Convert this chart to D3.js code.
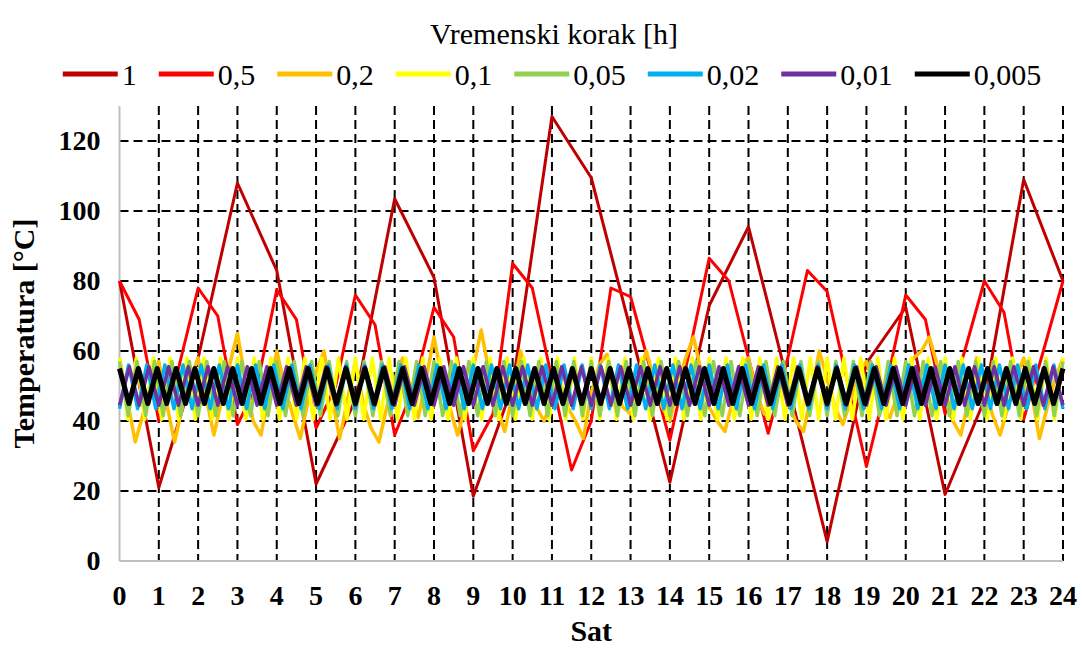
<!DOCTYPE html>
<html>
<head>
<meta charset="utf-8">
<script src="https://cdn.jsdelivr.net/npm/d3@7/dist/d3.min.js"></script>
<style>
  body { margin: 0; background: #fff; }
  text { font-family: "Liberation Serif", "Times New Roman", serif; }
</style>
</head>
<body>
<div id="chart"></div>
<script>
// legend labels (time step in hours) and colours
const seriesLabels = ["1", "0,5", "0,2", "0,1", "0,05", "0,02", "0,01", "0,005"];
const seriesColors = ["#C00000", "#FF0000", "#FFC000", "#FFFF00", "#92D050", "#00B0F0", "#7030A0", "#000000"];

const hourTicks = [0,1,2,3,4,5,6,7,8,9,10,11,12,13,14,15,16,17,18,19,20,21,22,23,24];
const tempTicks = [0,20,40,60,80,100,120];

// step 1 h
const step1 = [80,21,58,108,83,22,46,103.5,81,18.5,50,127,109.5,66,22.5,73,95.5,51,5.5,56.5,72.5,19,46,109,80];

// step 0,5 h
const step05 = [80,69,40,55,78,70,39,50,77.5,69,38,50,76,67.5,36,50,72.5,64,31.5,42,
  85,78,52,26,40,78,75.5,55,34.5,60,86.5,80,58,36.5,58,83,77,52,27,50,
  76,69,42,60,80,71,40.5,60,80];

// step 0,2 h
const step02 = [58,46,34,42,50, 57,45,34,44,52, 58,47,36,46,56, 65,52,40,36,48,
  60,50,42,35,46, 54,60,47,35,46, 57,45,38,34,44, 52,58,48,41,52,
  64,52,44,36,44, 55,66,54,44,37, 48,60,52,44,40, 46,52,44,40,35,
  48,56,59,50,44, 42,52,60,52,44, 40,50,58,64,54, 44,40,37,46,56,
  58,48,42,44,52, 46,40,37,48,60, 52,44,39,46,54, 57,50,44,41,48,
  54,58,60,64,56, 46,40,36,46,58, 50,42,36,44,52, 58,48,35,44,52, 58];

// finer steps, as they show in the picture
const step01 = [58,40.5,58,40.5,58,40.5,58,40.5,58,40.5, 58,40.5,58,40.5,58,40.5,58,40.5,58,40.5,
  58,40.5,58,40.5,58,40.5,58,40.5,58,40.5, 58,40.5,58,40.5,58,40.5,58,40.5,58,40.5,
  58,40.5,58,40.5,58,40.5,58,40.5,58,40.5, 58,40.5,58,40.5,58,40.5,58,40.5,58,40.5,
  58,40.5,58,40.5,58,40.5,58,40.5,58,40.5, 58,40.5,58,40.5,58,40.5,58,40.5,58,40.5,
  58,40.5,58,40.5,58,40.5,58,40.5,58,40.5, 58,40.5,58,40.5,58,40.5,58,40.5,58,40.5,
  58,40.5,58,40.5,58,40.5,58,40.5,58,40.5, 58,40.5,58];

const step005 = [57,41.5,57,41.5,57,41.5,57,41.5,57,41.5, 57,41.5,57,41.5,57,41.5,57,41.5,57,41.5,
  57,41.5,57,41.5,57,41.5,57,41.5,57,41.5, 57,41.5,57,41.5,57,41.5,57,41.5,57,41.5,
  57,41.5,57,41.5,57,41.5,57,41.5,57,41.5, 57,41.5,57,41.5,57,41.5,57,41.5,57,41.5,
  57,41.5,57,41.5,57,41.5,57,41.5,57,41.5, 57,41.5,57,41.5,57,41.5,57,41.5,57,41.5,
  57,41.5,57,41.5,57,41.5,57,41.5,57,41.5, 57,41.5,57,41.5,57,41.5,57,41.5,57,41.5,
  57,41.5,57,41.5,57,41.5,57,41.5,57];

const step002 = [43.5,56,43.5,56,43.5,56,43.5,56,43.5,56, 43.5,56,43.5,56,43.5,56,43.5,56,43.5,56,
  43.5,56,43.5,56,43.5,56,43.5,56,43.5,56, 43.5,56,43.5,56,43.5,56,43.5,56,43.5,56,
  43.5,56,43.5,56,43.5,56,43.5,56,43.5,56, 43.5,56,43.5,56,43.5,56,43.5,56,43.5,56,
  43.5,56,43.5,56,43.5,56,43.5,56,43.5,56, 43.5,56,43.5,56,43.5,56,43.5,56,43.5,56,
  43.5,56,43.5,56,43.5,56,43.5,56,43.5,56, 43.5,56,43.5,56,43.5,56,43.5,56,43.5,56,
  43.5,56,43.5,56,43.5];

const step001 = [44.5,55.5,44.5,55.5,44.5,55.5,44.5,55.5,44.5,55.5, 44.5,55.5,44.5,55.5,44.5,55.5,44.5,55.5,44.5,55.5,
  44.5,55.5,44.5,55.5,44.5,55.5,44.5,55.5,44.5,55.5, 44.5,55.5,44.5,55.5,44.5,55.5,44.5,55.5,44.5,55.5,
  44.5,55.5,44.5,55.5,44.5,55.5,44.5,55.5,44.5,55.5, 44.5,55.5,44.5,55.5,44.5,55.5,44.5,55.5,44.5,55.5,
  44.5,55.5,44.5,55.5,44.5,55.5,44.5,55.5,44.5,55.5, 44.5,55.5,44.5,55.5,44.5,55.5,44.5,55.5,44.5,55.5,
  44.5,55.5,44.5,55.5,44.5,55.5,44.5,55.5,44.5,55.5, 44.5,55.5,44.5,55.5,44.5,55.5,44.5];

const step0005 = [55,45,55,45,55,45,55,45,55,45, 55,45,55,45,55,45,55,45,55,45,
  55,45,55,45,55,45,55,45,55,45, 55,45,55,45,55,45,55,45,55,45,
  55,45,55,45,55,45,55,45,55,45, 55,45,55,45,55,45,55,45,55,45,
  55,45,55,45,55,45,55,45,55,45, 55,45,55,45,55,45,55,45,55,45,
  55,45,55,45,55,45,55,45,55,45, 55,45,55,45,55,45,55,45,55,45, 55];

const allSeries = [step1, step05, step02, step01, step005, step002, step001, step0005];
const lineWidths = [3, 3, 3.5, 3.5, 3.5, 3.5, 3.5, 5];

document.addEventListener("DOMContentLoaded", function () {
    const width = 1082, height = 650;
    const margin = {left: 119.5, right: 19, top: 106, bottom: 89};

    const svg = d3.select("#chart").append("svg")
        .attr("width", width)
        .attr("height", height);

    const x = d3.scaleLinear().domain([0, 24]).range([margin.left, width - margin.right]);
    const y = d3.scaleLinear().domain([0, 130]).range([height - margin.bottom, margin.top]);

    // dashed grid
    const grid = svg.append("g")
        .attr("stroke", "#000")
        .attr("stroke-width", 2)
        .attr("stroke-dasharray", "9,5");

    grid.selectAll("line.h")
        .data(tempTicks.filter(d => d > 0))
        .join("line")
        .attr("x1", x(0)).attr("x2", x(24))
        .attr("y1", d => y(d)).attr("y2", d => y(d));

    grid.selectAll("line.v")
        .data(hourTicks.filter(d => d > 0))
        .join("line")
        .attr("x1", d => x(d)).attr("x2", d => x(d))
        .attr("y1", y(130)).attr("y2", y(0));

    // gray axis lines
    svg.append("line")
        .attr("x1", x(0)).attr("x2", x(0))
        .attr("y1", y(130)).attr("y2", y(0))
        .attr("stroke", "#bfbfbf").attr("stroke-width", 2);
    svg.append("line")
        .attr("x1", x(0)).attr("x2", x(24))
        .attr("y1", y(0)).attr("y2", y(0))
        .attr("stroke", "#bfbfbf").attr("stroke-width", 2);

    // series lines (first in legend is drawn first)
    const line = d3.line()
        .x((d, i, arr) => x(i * 24 / (arr.length - 1)))
        .y(d => y(d));

    svg.append("g")
        .selectAll("path")
        .data(allSeries)
        .join("path")
        .attr("fill", "none")
        .attr("stroke", (d, i) => seriesColors[i])
        .attr("stroke-width", (d, i) => lineWidths[i])
        .attr("stroke-linejoin", "round")
        .attr("d", d => line(d));

    // tick labels
    svg.append("g")
        .selectAll("text")
        .data(hourTicks)
        .join("text")
        .attr("x", d => x(d))
        .attr("y", y(0) + 44)
        .attr("text-anchor", "middle")
        .style("font-size", "28px")
        .style("font-weight", "bold")
        .text(d => d);

    svg.append("g")
        .selectAll("text")
        .data(tempTicks)
        .join("text")
        .attr("x", x(0) - 19)
        .attr("y", d => y(d))
        .attr("dy", "0.33em")
        .attr("text-anchor", "end")
        .style("font-size", "28px")
        .style("font-weight", "bold")
        .text(d => d);

    // axis titles
    svg.append("text")
        .attr("x", (x(0) + x(24)) / 2)
        .attr("y", 641)
        .attr("text-anchor", "middle")
        .style("font-size", "30px")
        .style("font-weight", "bold")
        .text("Sat");

    svg.append("text")
        .attr("transform", `translate(34,${(y(0) + y(130)) / 2}) rotate(-90)`)
        .attr("text-anchor", "middle")
        .style("font-size", "30px")
        .style("font-weight", "bold")
        .text("Temperatura [°C]");

    // legend
    svg.append("text")
        .attr("x", 554)
        .attr("y", 44)
        .attr("text-anchor", "middle")
        .style("font-size", "30px")
        .text("Vremenski korak [h]");

    const legend = svg.append("g");
    let lx = 0;
    seriesLabels.forEach((lab, i) => {
        const g = legend.append("g").attr("transform", `translate(${lx},0)`);
        g.append("line")
            .attr("x1", 0).attr("x2", 55)
            .attr("y1", 74).attr("y2", 74)
            .attr("stroke", seriesColors[i])
            .attr("stroke-width", 5);
        const t = g.append("text")
            .attr("x", 59)
            .attr("y", 85)
            .style("font-size", "30px")
            .text(lab);
        lx += 59 + t.node().getComputedTextLength() + 22;
    });
    const legendWidth = lx - 22;
    legend.attr("transform", `translate(${552 - legendWidth / 2},0)`);
});
</script>
</body>
</html>
